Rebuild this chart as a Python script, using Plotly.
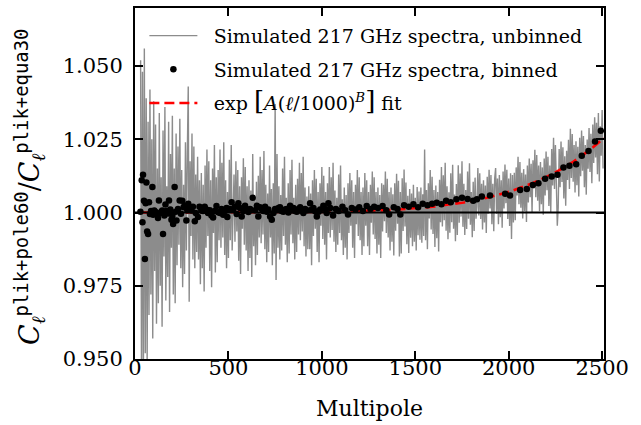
import math
import plotly.graph_objects as go

# ---------------- data ----------------
# Unbinned simulated ratio, sampled every 5 multipoles from ell=30, stored as (ratio-1)*1e4
unbinned_ell_start = 30
unbinned_ell_step = 5
unbinned_dev_1e4 = [
    520, -610, 480, -560, 560, -480, 390, -520, 310, -350, 420, -280, 250, -430, 380, -200, 300, -380, 150, -310,
    340, -250, 120, -390, 280, -150, 360, -300, 90, -220, 310, -340, 200, -120, 330, -280, 150, -310, 270, -180,
    225, -110, 320, -190, 145, -255, 95, -210, 240, -130, 200, 430, -305, 175, -80, 270, -160, 225, -190, 130,
    -135, 190, -160, 110, -245, 135, -190, 95, -270, 160, -120, 215, -80, 175, -200, 110, -255, 150, -70, 230,
    -205, 120, -170, 145, -95, 215, -120, 170, -85, 240, -145, 110, -190, 70, -155, 180, -95, 230, -130, 60,
    130, -100, 175, -65, 145, -165, 90, -210, 120, -55, 185, -110, 155, -130, 90, -200, 110, -155, 75, -220,
    200, -115, 55, -180, 105, -145, 125, -85, 190, -105, 145, -75, 210, -125, 95, -170, 65, -135, 160, -85,
    80, -180, 100, -140, 370, -230, 200, -120, 90, -160, 60, -130, 150, -80, 190, -110, 50, -170, 100, -140,
    145, -75, 180, -105, 50, -160, 95, -135, 115, -75, 170, -95, 135, -65, 190, -115, 85, -150, 55, -125,
    90, -125, 65, -180, 110, -80, 145, -55, 115, -135, 70, -170, 100, -45, 155, -90, 125, -110, 70, -160,
    100, -70, 155, -85, 120, -60, 170, -100, 75, -135, 50, -110, 130, -70, 160, -95, 45, -145, 85, -120,
    60, -160, 100, -70, 135, -45, 110, -120, 70, -155, 95, -40, 145, -80, 120, -95, 70, -145, 85, -115,
    135, -45, 110, -115, 70, -145, 95, -35, 140, -75, 120, -90, 70, -140, 85, -110, 60, -155, 100, -65,
    95, -30, 140, -70, 115, -85, 70, -130, 85, -100, 62, -147, 100, -62, 132, -38, 108, -150, 70, -140,
    117, -63, 147, -48, 102, -108, 57, -138, 80, -86, 65, -115, 95, -100, 50, -130, 87, -78, 72, -93,
    85, -103, 62, -80, 215, -95, 77, -125, 100, -20, 145, -58, 122, -73, 77, -118, 92, -88, 70, -133,
    112, -33, 155, -48, 127, -26, 170, -62, 90, -91, 69, -69, 134, -33, 163, -55, 61, -98, 97, -77,
    161, -35, 133, -14, 175, -49, 98, -77, 77, -56, 140, -21, 168, -42, 70, -84, 105, -63, 119, -21,
    20, 152, -10, 134, -22, 98, -58, 110, -34, 92, -70, 122, -4, 146, 14, 128, -40, 98, -64, 116,
    152, -4, 116, -40, 128, -16, 110, -52, 140, 14, 164, 32, 146, -22, 116, -46, 134, -90, 128, -34,
    136, -26, 154, 58, 190, 28, 172, 16, 136, -20, 148, 4, 130, -32, 160, 34, 184, 52, 166, -2,
    178, 82, 214, 52, 196, 40, 160, 4, 172, 28, 154, -8, 184, 58, 208, 76, 190, 22, 160, -2,
    217, 92, 255, 80, 230, 98, -45, 17, 217, 86, 242, 104, 223, 48, 192, 23, 211, 111, 248, 80,
    286, 118, 268, 105, 230, 68, 243, 93, 224, 55, 255, 124, 280, 143, 261, 86, 230, 61, 249, 149,
    288, 138, 269, 100, 300, 169, 325, 188, 306, 131, 340, 106, 294, 194, 350, 150,
]

binned_ell = [
    29, 36, 40, 43, 48, 53, 57, 61, 65, 70, 75, 80, 86, 93, 97, 103, 110, 116, 123, 128,
    135, 141, 146, 150, 157, 163, 170, 177, 182, 189, 195, 200, 204, 212, 218, 222, 230, 239, 246, 253,
    260, 266, 275, 280, 285, 293, 302, 310, 320, 325, 337, 345, 355, 364, 373, 382, 391, 400, 409, 418,
    427, 436, 445, 455, 463, 472, 481, 490, 494, 503, 508, 517, 526, 535, 544, 553, 562, 571, 580, 589,
    598, 607, 616, 630, 643, 652, 660, 669, 678, 687, 696, 705, 714, 723, 732, 741, 750, 759, 768, 776,
    785, 794, 803, 812, 821, 830, 839, 848, 857, 866, 875, 884, 893, 901, 910, 920, 937, 946, 955, 964,
    973, 982, 991, 1008, 1017, 1026, 1035, 1045, 1060, 1075, 1090, 1110, 1125, 1140, 1160, 1180, 1200, 1220, 1240, 1260,
    1280, 1300, 1325, 1345, 1360, 1385, 1405, 1420, 1440, 1465, 1490, 1515, 1540, 1565, 1590, 1615, 1640, 1665, 1690, 1720,
    1750, 1780, 1810, 1830, 1856, 1900, 1981, 2007, 2061, 2097, 2129, 2159, 2195, 2230, 2261, 2293, 2325, 2361, 2391, 2427,
    2462, 2493,
]
binned_ratio = [
    1.0003, 1.0110, 0.9967, 1.0129, 1.0040, 0.9841, 1.0032, 1.0102, 0.9935, 0.9927, 1.0035, 0.9995, 1.0005, 1.0087, 0.9992, 1.0007, 1.0002, 0.9996, 0.9981, 1.0041,
    0.9998, 1.0003, 1.0007, 0.9927, 0.9990, 1.0027, 1.0005, 0.9997, 1.0041, 1.0010, 0.9975, 0.9989, 0.9961, 1.0087, 1.0003, 0.9973, 1.0012, 1.0041, 0.9996, 1.0040,
    1.0018, 1.0023, 0.9973, 1.0008, 1.0030, 1.0015, 1.0007, 1.0020, 0.9970, 0.9998, 0.9985, 1.0020, 1.0008, 1.0005, 1.0020, 1.0010, 0.9998, 1.0008, 0.9990, 0.9983,
    1.0005, 1.0022, 1.0001, 0.9998, 1.0012, 0.9992, 1.0005, 1.0015, 0.9985, 1.0012, 1.0012, 1.0035, 1.0010, 1.0020, 0.9995, 1.0032, 1.0015, 0.9986, 1.0005, 1.0023,
    1.0010, 1.0002, 1.0012, 1.0050, 1.0008, 1.0023, 0.9986, 1.0018, 1.0012, 1.0005, 1.0020, 1.0003, 1.0010, 0.9986, 0.9975, 0.9998, 1.0012, 1.0009, 1.0015, 1.0018,
    1.0005, 1.0003, 1.0010, 1.0012, 1.0000, 1.0023, 1.0008, 1.0015, 1.0005, 1.0003, 1.0012, 1.0018, 1.0006, 0.9998, 1.0012, 1.0008, 1.0032, 1.0010, 1.0015, 1.0004,
    0.9986, 1.0003, 1.0010, 1.0023, 1.0012, 0.9998, 1.0032, 1.0015, 0.9990, 1.0012, 1.0005, 1.0020, 1.0008, 0.9993, 1.0015, 1.0010, 1.0018, 1.0005, 1.0022, 1.0012,
    1.0020, 1.0015, 1.0022, 1.0008, 0.9993, 1.0018, 1.0012, 0.9993, 1.0025, 1.0020, 1.0028, 1.0018, 1.0030, 1.0025, 1.0030, 1.0033, 1.0028, 1.0040, 1.0035, 1.0045,
    1.0050, 1.0046, 1.0040, 1.0045, 1.0055, 1.0058, 1.0064, 1.0058, 1.0077, 1.0080, 1.0094, 1.0100, 1.0115, 1.0123, 1.0129, 1.0154, 1.0160, 1.0165, 1.0194, 1.0210,
    1.0242, 1.0279,
]

# Fit exp[A (ell/1000)^B]
fit_A = 1.45e-4
fit_B = 5.6
fit_ell = list(range(30, 2511, 10))

x_ticks = [0, 500, 1000, 1500, 2000, 2500]
y_ticks = [0.950, 0.975, 1.000, 1.025, 1.050]
y_tick_text = ["0.950", "0.975", "1.000", "1.025", "1.050"]

legend_names = [
    "Simulated 217 GHz spectra, unbinned",
    "Simulated 217 GHz spectra, binned",
    "exp <span style='font-size:26px'>[</span><i>A</i>(<i>ℓ</i>/1000)<sup><i>B</i></sup><span style='font-size:26px'>]</span> fit",
]

# ---------------- derived ----------------
unbinned_ell = [unbinned_ell_start + unbinned_ell_step * i for i in range(len(unbinned_dev_1e4))]
unbinned_ratio = [1 + d / 1e4 for d in unbinned_dev_1e4]
fit_ratio = [math.exp(fit_A * (l / 1000.0) ** fit_B) for l in fit_ell]

SERIF = "DejaVu Serif"
MONO = "DejaVu Sans Mono"
PAD = "\u2002\u200a"  # gap between legend symbol and text

fig = go.Figure()
fig.add_trace(go.Scatter(
    x=unbinned_ell, y=unbinned_ratio, mode="lines",
    line=dict(color="#8c8c8c", width=1.4),
    name=PAD + legend_names[0], legendgroup="g1",
))
fig.add_trace(go.Scatter(
    x=fit_ell, y=fit_ratio, mode="lines",
    line=dict(color="#ff0000", width=2.6, dash="10px,5px"),
    showlegend=False, hoverinfo="skip",
))
fig.add_trace(go.Scatter(
    x=[0, 2510], y=[1.0, 1.0], mode="lines",
    line=dict(color="black", width=2), showlegend=False, hoverinfo="skip",
))
fig.add_trace(go.Scatter(
    x=binned_ell, y=binned_ratio, mode="markers",
    marker=dict(color="black", size=6.5),
    name=PAD + legend_names[1], legendgroup="g2",
))
fig.add_trace(go.Scatter(
    x=[None], y=[None], mode="lines",
    line=dict(color="#ff0000", width=2.6, dash="10px,5px"),
    name=PAD + legend_names[2], legendgroup="g3",
))

axis_common = dict(
    showline=True, linecolor="black", linewidth=2, mirror="allticks",
    ticks="inside", ticklen=8, tickwidth=1.5, tickcolor="black",
    showgrid=False, zeroline=False,
    tickfont=dict(family=SERIF, size=21, color="black"),
)
fig.update_xaxes(range=[0, 2510], tickvals=x_ticks, ticklabelstandoff=-11, **axis_common)
fig.update_yaxes(range=[0.950, 1.0698], tickvals=y_ticks, ticktext=y_tick_text,
                 ticklabelstandoff=6, **axis_common)

fig.add_annotation(
    text="Multipole", xref="paper", yref="paper", x=0.5, y=-0.142,
    xanchor="center", yanchor="middle", showarrow=False,
    font=dict(family=SERIF, size=22, color="black"),
)

ytitle = ("<i>C</i><sub><i>ℓ</i></sub><sup><span style='font-family:%s'>plik+pole60</span></sup>"
          "/<i>C</i><sub><i>ℓ</i></sub><sup><span style='font-family:%s'>plik+equa30</span></sup>") % (MONO, MONO)
fig.add_annotation(
    text=ytitle, xref="paper", yref="paper", x=-0.226, y=0.49,
    xanchor="center", yanchor="middle", textangle=-90, showarrow=False,
    font=dict(family=SERIF, size=27, color="black"),
)

fig.update_layout(
    width=641, height=425,
    margin=dict(l=135, r=37, t=8, b=66, autoexpand=False),
    paper_bgcolor="white", plot_bgcolor="white",
    showlegend=True,
    legend=dict(x=0.02, y=0.975, xanchor="left", yanchor="top",
                bgcolor="rgba(0,0,0,0)", borderwidth=0,
                font=dict(family=SERIF, size=19, color="black"),
                itemwidth=48, tracegroupgap=6),
)

fig.write_html("out.html")
